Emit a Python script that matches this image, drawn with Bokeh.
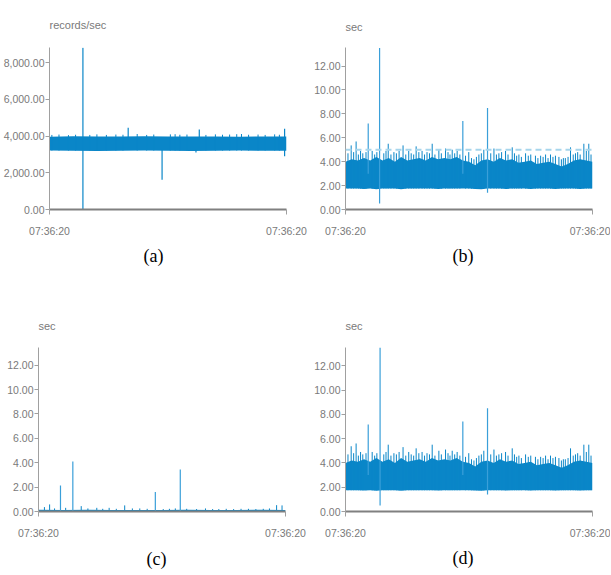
from bokeh.plotting import figure
from bokeh.layouts import row, column
from bokeh.models import Range1d, FixedTicker, NumeralTickFormatter, Span, Title
from bokeh.embed import file_html
from bokeh.resources import INLINE

# ---------------- data ----------------
x_ticks = [0, 100]
x_tick_labels = ["07:36:20", "07:36:20"]
a_yticks = [0, 2000, 4000, 6000, 8000]
s_yticks = [0, 2, 4, 6, 8, 10, 12]
units_a = "records/sec"
units_s = "sec"
captions = ["(a)", "(b)", "(c)", "(d)"]

# (a) throughput envelope
a_env_x = [0, 10, 20, 30, 40, 50, 60, 70, 80, 90, 100]
a_env_hi = [3960, 3990, 3970, 3980, 3990, 3970, 3980, 3970, 3960, 3980, 3970]
a_env_lo = [3210, 3200, 3190, 3200, 3210, 3200, 3190, 3200, 3210, 3200, 3200]
a_spk_x = [14.1, 47.5, 33.2, 63.2, 99.2, 61.8]
a_spk_hi = [8800, 3300, 4450, 4350, 4400, 3300]
a_spk_lo = [0, 1616, 3900, 3900, 2900, 3100]
a_hair_x = [1, 4, 8, 11, 17, 20, 24, 28, 31, 37, 41, 44, 51, 53, 55, 58, 66, 70, 73,
            76, 79, 81, 84, 88, 91, 95, 97]
a_hair_hi = [4060, 4080, 4050, 4070, 4060, 4090, 4060, 4080, 4070, 4110, 4060, 4080,
             4090, 4100, 4070, 4080, 4060, 4090, 4070, 4080, 4100, 4110, 4070, 4080,
             4060, 4090, 4070]

# (b) latency envelope
b_env_x = [0, 2.5, 5, 7.5, 10, 12.5, 15, 17.5, 20, 22.5, 25, 27.5, 30, 32.5, 35, 37.5,
           40, 42.5, 45, 47.5, 50, 52.5, 55, 57.5, 60, 62.5, 65, 67.5, 70, 72.5, 75,
           77.5, 80, 82.5, 85, 87.5, 90, 92.5, 95, 97.5, 100]
b_env_hi = [4.0, 4.2, 4.1, 4.3, 4.1, 4.4, 4.1, 4.3, 4.0, 4.4, 4.1, 4.2, 4.3, 4.1, 4.4,
            4.2, 4.3, 4.2, 4.4, 4.1, 4.0, 3.7, 4.1, 4.2, 4.0, 4.3, 4.1, 4.2, 3.9, 4.0,
            4.1, 3.8, 3.9, 4.0, 3.8, 3.6, 3.8, 4.1, 4.2, 4.1, 4.0]
b_env_lo = [1.75, 1.75, 1.75, 1.72, 1.75, 1.7, 1.75, 1.75, 1.75, 1.7, 1.75, 1.75, 1.75,
            1.75, 1.75, 1.72, 1.75, 1.75, 1.75, 1.75, 1.75, 1.72, 1.7, 1.75, 1.75, 1.75,
            1.72, 1.75, 1.75, 1.75, 1.72, 1.75, 1.75, 1.75, 1.72, 1.75, 1.75, 1.75,
            1.72, 1.75, 1.75]
b_spk_x = [9.2, 13.8, 47.5, 57.5]
b_spk_hi = [7.2, 13.5, 7.4, 8.5]
b_spk_lo = [3.0, 0.5, 3.0, 1.4]
b_hair_x = [1.0, 2.3, 3.3, 4.3, 5.2, 6.1, 7.0, 8.3, 10.8, 11.8, 12.7, 15.5, 16.4, 17.3,
            18.4, 19.6, 20.6, 21.7, 23.3, 24.4, 25.6, 26.6, 27.6, 28.6, 29.7, 31.0, 32.0,
            33.0, 34.0, 35.1, 36.2, 37.8, 38.8, 40.5, 41.5, 42.3, 43.2, 44.2, 45.2, 46.3,
            48.6, 49.9, 51.0, 52.0, 53.0, 54.0, 55.0, 56.0, 58.8, 60.1, 61.1, 62.1, 63.2,
            64.8, 65.8, 67.5, 68.4, 69.3, 70.2, 71.2, 72.9, 74.0, 75.0, 76.9, 77.9, 79.0,
            80.0, 81.0, 82.0, 83.0, 84.0, 85.0, 86.4, 87.4, 88.2, 89.0, 90.1, 91.1, 92.2,
            93.1, 94.0, 95.0, 96.5, 97.5, 98.5, 99.4]
b_hair_hi = [4.7, 5.36, 4.8, 5.69, 4.6, 4.9, 4.7, 4.8, 4.9, 4.6, 4.8, 4.7, 4.9, 5.5,
             4.6, 4.8, 4.7, 4.9, 5.36, 4.6, 4.9, 4.7, 4.6, 5.28, 4.8, 4.9, 4.6, 4.8,
             4.7, 5.5, 4.6, 5.0, 4.7, 5.1, 4.8, 4.6, 5.0, 4.7, 4.9, 4.6, 4.5, 4.8, 4.3,
             4.2, 4.4, 4.6, 4.7, 5.0, 4.7, 5.1, 4.6, 4.7, 4.8, 4.9, 4.6, 5.2, 4.7, 4.5,
             4.6, 4.4, 4.7, 4.5, 4.6, 4.5, 4.3, 4.5, 4.4, 4.6, 4.3, 4.6, 4.4, 4.5, 4.4,
             4.2, 4.3, 4.3, 4.4, 5.2, 4.6, 4.7, 4.8, 4.6, 5.5, 4.9, 5.5, 4.6]

b_threshold = 5.0

# (c) latency, near zero
c_env_x = [0, 10, 20, 30, 40, 50, 60, 70, 80, 90, 100]
c_env_hi = [0.14, 0.12, 0.15, 0.12, 0.13, 0.12, 0.14, 0.12, 0.13, 0.14, 0.12]
c_env_lo = [0.0, 0.0, 0.0, 0.0, 0.0, 0.0, 0.0, 0.0, 0.0, 0.0, 0.0]
c_spk_x = [8.9, 13.9, 47.3, 57.4]
c_spk_hi = [2.14, 4.1, 1.6, 3.45]
c_hair_x = [2.4, 4.5, 6.5, 11.0, 17.3, 20.0, 23.6, 26.0, 28.6, 31.5, 34.9, 38.0, 41.0,
            44.0, 50.5, 53.0, 55.4, 60.0, 64.0, 67.6, 70.5, 73.0, 76.0, 79.0, 82.0,
            85.0, 88.0, 91.0, 93.5, 96.4, 98.6]
c_hair_hi = [0.36, 0.58, 0.25, 0.3, 0.44, 0.25, 0.3, 0.22, 0.3, 0.22, 0.5, 0.25, 0.25,
             0.22, 0.2, 0.22, 0.25, 0.22, 0.2, 0.25, 0.2, 0.2, 0.22, 0.2, 0.22, 0.22,
             0.2, 0.22, 0.25, 0.52, 0.5]

# (d) latency envelope
d_env_x = b_env_x
d_env_hi = [4.0, 4.2, 4.1, 4.3, 4.1, 4.4, 4.1, 4.3, 4.0, 4.4, 4.1, 4.2, 4.3, 4.1, 4.4,
            4.2, 4.3, 4.2, 4.4, 4.1, 4.0, 3.7, 4.1, 4.2, 4.0, 4.3, 4.1, 4.2, 3.9, 4.0,
            4.1, 3.8, 3.9, 4.0, 3.8, 3.6, 3.8, 4.1, 4.2, 4.1, 4.0]
d_env_lo = b_env_lo
d_spk_x = [9.2, 14.0, 47.5, 57.5]
d_spk_hi = [7.17, 13.5, 7.4, 8.5]
d_spk_lo = [3.0, 0.5, 3.0, 1.4]
d_hair_x = b_hair_x
d_hair_hi = [4.7, 5.37, 4.8, 5.6, 4.6, 4.9, 4.7, 4.8, 4.9, 4.6, 4.8, 4.7, 4.9, 5.5,
             4.6, 4.8, 4.7, 4.9, 5.3, 4.6, 4.9, 4.7, 4.6, 5.2, 4.8, 4.9, 4.6, 4.8,
             4.7, 5.5, 4.6, 5.0, 4.7, 5.1, 4.8, 4.6, 5.0, 4.7, 4.9, 4.6, 4.5, 4.8, 4.3,
             4.2, 4.4, 4.6, 4.7, 5.0, 4.7, 5.1, 4.6, 4.7, 4.8, 4.9, 4.6, 5.2, 4.7, 4.5,
             4.6, 4.4, 4.7, 4.5, 4.6, 4.5, 4.3, 4.5, 4.4, 4.6, 4.3, 4.6, 4.4, 4.5, 4.4,
             4.2, 4.3, 4.3, 4.4, 5.2, 4.6, 4.7, 4.8, 4.6, 5.5, 4.9, 5.5, 4.6]

# ---------------- styling ----------------
FONT = "'Liberation Sans', Arial, sans-serif"
MAIN = "#0a86c8"
SPIKE = "#3a9fd9"
LABEL_C = "#7a7a7a"


def make_fig(width, height, borders, y_end, yticks, yfmt, units, title_standoff,
             cap, cap_offset, cap_standoff):
    left, right, top, bottom = borders
    p = figure(width=width, height=height, output_backend="svg", toolbar_location=None,
               x_range=Range1d(0, 100), y_range=Range1d(0, y_end),
               min_border_left=left, min_border_right=right,
               min_border_top=top, min_border_bottom=bottom,
               background_fill_color="white", border_fill_color="white")
    p.outline_line_color = None
    p.grid.grid_line_color = None
    p.title.text = units
    p.title.text_font = FONT
    p.title.text_font_size = "11px"
    p.title.text_font_style = "normal"
    p.title.text_color = LABEL_C
    p.title.align = "left"
    p.title.standoff = title_standoff

    ya = p.yaxis[0]
    ya.ticker = FixedTicker(ticks=yticks)
    ya.formatter = NumeralTickFormatter(format=yfmt)
    ya.axis_line_color = "#a0a0a0"
    ya.major_tick_line_color = "#a0a0a0"
    ya.major_tick_in = 0
    ya.major_tick_out = 4
    ya.minor_tick_line_color = None
    ya.major_label_standoff = 1
    ya.major_label_text_font = FONT
    ya.major_label_text_font_size = "10.5px"
    ya.major_label_text_color = LABEL_C

    xa = p.xaxis[0]
    xa.ticker = FixedTicker(ticks=x_ticks)
    xa.major_label_overrides = {t: lab for t, lab in zip(x_ticks, x_tick_labels)}
    xa.axis_line_color = "#808080"
    xa.axis_line_width = 2
    xa.major_tick_line_color = "#a0a0a0"
    xa.major_tick_in = 0
    xa.major_tick_out = 5
    xa.minor_tick_line_color = None
    xa.major_label_standoff = 10
    xa.major_label_text_font = FONT
    xa.major_label_text_font_size = "10.5px"
    xa.major_label_text_color = LABEL_C

    p.add_layout(Title(text=cap, align="left", offset=cap_offset,
                       text_font="Liberation Serif", text_font_size="18px",
                       text_font_style="normal", text_color="black",
                       standoff=cap_standoff),
                 "below")
    return p


# (a)
pa = make_fig(308, 290, (49, 22, 47, 81), 8820, a_yticks, "0,0.00", units_a, 33,
              captions[0], 94, 9)
pa.varea(x=a_env_x, y1=a_env_lo, y2=a_env_hi, color=MAIN)
pa.segment(x0=a_hair_x, y0=a_env_lo[:1] * len(a_hair_x), x1=a_hair_x, y1=a_hair_hi,
           line_color=MAIN, line_width=1)
pa.segment(x0=a_spk_x, y0=a_spk_lo, x1=a_spk_x, y1=a_spk_hi, line_color=MAIN, line_width=1.2)

# (b)
pb = make_fig(302, 290, (37, 18, 43, 81), 13.55, s_yticks, "0.00", units_s, 30,
              captions[1], 107, 9)
pb.varea(x=b_env_x, y1=b_env_lo, y2=b_env_hi, color=MAIN)
pb.segment(x0=b_hair_x, y0=b_env_lo[:1] * len(b_hair_x), x1=b_hair_x, y1=b_hair_hi,
           line_color=MAIN, line_width=1)
pb.segment(x0=b_spk_x, y0=b_spk_lo, x1=b_spk_x, y1=b_spk_hi, line_color=SPIKE, line_width=1.2)
pb.add_layout(Span(location=b_threshold, dimension="width", line_color="#a6d5ec",
                   line_width=2, line_dash="6 4"))

# (c)
pc = make_fig(308, 285, (38, 23, 57, 64), 13.45, s_yticks, "0.00", units_s, 31,
              captions[2], 108, 10)
pc.varea(x=c_env_x, y1=c_env_lo, y2=c_env_hi, color=MAIN)
pc.segment(x0=c_hair_x, y0=c_env_lo[:1] * len(c_hair_x), x1=c_hair_x, y1=c_hair_hi,
           line_color=MAIN, line_width=1)
pc.segment(x0=c_spk_x, y0=c_env_lo[:1] * len(c_spk_x), x1=c_spk_x, y1=c_spk_hi,
           line_color=SPIKE, line_width=1.2)

# (d)
pd_ = make_fig(302, 285, (37, 18, 57, 63), 13.5, s_yticks, "0.00", units_s, 31,
               captions[3], 107, 9)
pd_.varea(x=d_env_x, y1=d_env_lo, y2=d_env_hi, color=MAIN)
pd_.segment(x0=d_hair_x, y0=d_env_lo[:1] * len(d_hair_x), x1=d_hair_x, y1=d_hair_hi,
            line_color=MAIN, line_width=1)
pd_.segment(x0=d_spk_x, y0=d_spk_lo, x1=d_spk_x, y1=d_spk_hi, line_color=SPIKE, line_width=1.2)

layout = column(row(pa, pb), row(pc, pd_))
open("out.html", "w").write(file_html(layout, INLINE))
